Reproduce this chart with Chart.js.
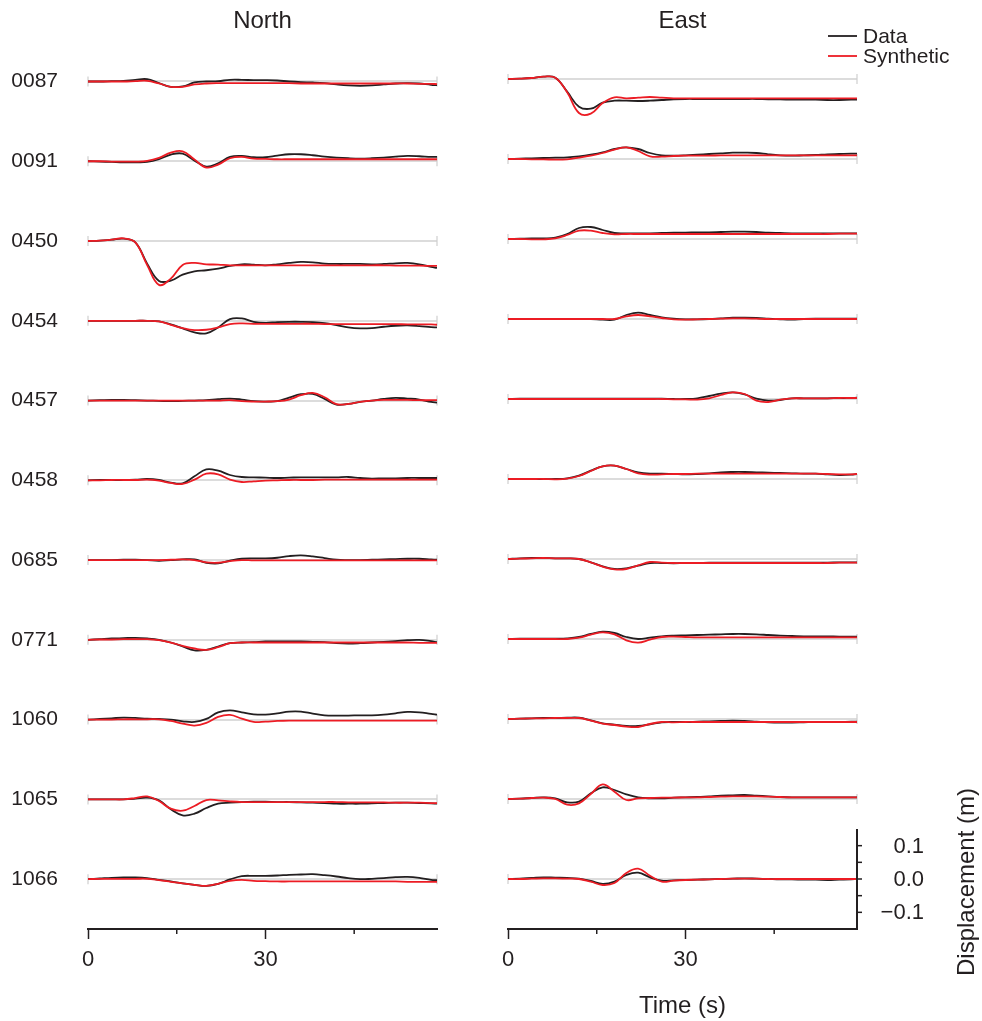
<!DOCTYPE html>
<html>
<head>
<meta charset="utf-8">
<title>North / East displacement waveforms</title>
<script src="https://cdn.jsdelivr.net/npm/chart.js@4.4.0/dist/chart.umd.min.js"></script>
<style>
html, body { margin: 0; padding: 0; background: #fff; }
#wrap { position: relative; width: 982px; height: 1021px; }
canvas { position: absolute; top: 0; }
#north { left: 0; }
#east { left: 420px; }
</style>
</head>
<body>
<div id="wrap">
  <canvas id="north" width="491" height="1021" style="width:491px;height:1021px"></canvas>
  <canvas id="east" width="562" height="1021" style="width:562px;height:1021px"></canvas>
</div>
<script>
// time samples (s), every 2 s
const times = [0,2,4,6,8,10,12,14,16,18,20,22,24,26,28,30,32,34,36,38,40,42,44,46,48,50,52,54,56,58,59];
const stations = ['0087','0091','0450','0454','0457','0458','0685','0771','1060','1065','1066'];
const xTicks = [0, 15, 30, 45];
const xTickLabels = [0, 30];
const dispTicks = [0.1, 0, -0.1];
const dispMinorTicks = [0.05, -0.05];
const STEP = 0.24;   // vertical offset between stations (m)

// North component, displacement (m): observed / synthetic
const n0087Data = [0,0,0.001,0.002,0.005,0.007,-0.005,-0.016,-0.015,-0.003,0,0.001,0.005,0.005,0.004,0.004,0.003,0,-0.002,-0.003,-0.005,-0.009,-0.012,-0.013,-0.012,-0.009,-0.006,-0.005,-0.006,-0.010,-0.011];
const n0087Syn  = [0,0,0,0,0.001,0.002,-0.006,-0.016,-0.016,-0.009,-0.006,-0.005,-0.005,-0.005,-0.005,-0.005,-0.005,-0.005,-0.006,-0.006,-0.006,-0.006,-0.006,-0.006,-0.006,-0.006,-0.006,-0.006,-0.007,-0.007,-0.008];
const n0091Data = [0,-0.001,-0.002,-0.003,-0.003,-0.002,0.006,0.020,0.023,0.002,-0.016,-0.006,0.013,0.016,0.012,0.012,0.017,0.021,0.021,0.018,0.014,0.011,0.009,0.008,0.009,0.011,0.014,0.016,0.015,0.013,0.013];
const n0091Syn  = [0,0,-0.001,-0.001,-0.001,0.001,0.010,0.026,0.030,0.005,-0.019,-0.010,0.009,0.013,0.008,0.007,0.006,0.006,0.006,0.006,0.006,0.006,0.006,0.006,0.006,0.006,0.006,0.006,0.006,0.006,0.006];
const n0450Data = [0,0.001,0.004,0.007,-0.004,-0.068,-0.120,-0.119,-0.101,-0.091,-0.088,-0.083,-0.075,-0.070,-0.071,-0.073,-0.070,-0.066,-0.063,-0.064,-0.068,-0.069,-0.069,-0.069,-0.070,-0.069,-0.067,-0.066,-0.070,-0.078,-0.081];
const n0450Syn  = [0,0.001,0.004,0.008,-0.004,-0.072,-0.132,-0.113,-0.072,-0.066,-0.070,-0.071,-0.073,-0.073,-0.073,-0.073,-0.073,-0.073,-0.073,-0.073,-0.073,-0.073,-0.073,-0.073,-0.073,-0.073,-0.074,-0.074,-0.074,-0.075,-0.075];
const n0454Data = [0,0,0,0,0,0,-0.002,-0.011,-0.023,-0.035,-0.038,-0.020,0.005,0.007,-0.003,-0.006,-0.004,-0.003,-0.003,-0.004,-0.007,-0.013,-0.020,-0.023,-0.022,-0.018,-0.015,-0.014,-0.016,-0.019,-0.020];
const n0454Syn  = [0,0,0,0,0,0,-0.002,-0.012,-0.022,-0.028,-0.027,-0.020,-0.010,-0.008,-0.009,-0.009,-0.009,-0.009,-0.009,-0.009,-0.010,-0.010,-0.010,-0.010,-0.010,-0.010,-0.010,-0.011,-0.011,-0.011,-0.012];
const n0457Data = [0,0.001,0.002,0.002,0.001,0,-0.001,-0.002,-0.001,0,0.001,0.004,0.006,0.003,-0.002,-0.003,-0.002,0.009,0.019,0.020,0.005,-0.012,-0.010,-0.004,0,0.005,0.008,0.006,0.003,-0.004,-0.006];
const n0457Syn  = [0,0,0,0,0,0,0,0,0,0,0,0,0.001,-0.002,-0.003,-0.003,-0.002,0.003,0.016,0.023,0.010,-0.011,-0.010,-0.004,0,0.002,0.002,0.002,0.001,0.001,0.001];
const n0458Data = [0,0.001,0.001,0.001,0.002,0.004,0.001,-0.007,-0.009,0.012,0.033,0.029,0.016,0.010,0.009,0.008,0.007,0.008,0.009,0.009,0.009,0.009,0.010,0.007,0.005,0.006,0.006,0.007,0.007,0.007,0.007];
const n0458Syn  = [0,0,0.001,0.001,0.001,0.002,-0.001,-0.008,-0.011,0.002,0.020,0.018,0.002,-0.005,-0.003,-0.001,0,0.001,0.001,0.001,0.002,0.002,0.002,0.002,0.002,0.002,0.002,0.002,0.002,0.002,0.002];
const n0685Data = [0,0,0,0.001,0.001,0,-0.002,0,0.002,0.002,-0.008,-0.010,-0.002,0.004,0.005,0.005,0.007,0.012,0.014,0.011,0.006,0.001,0,0,0.001,0.002,0.003,0.004,0.004,0.002,0.001];
const n0685Syn  = [0,0,0,0,0,0,0,0.001,0.002,0,-0.007,-0.008,-0.003,0,-0.001,-0.001,-0.001,-0.001,-0.001,-0.001,-0.001,-0.001,-0.001,-0.001,-0.001,-0.001,-0.001,-0.001,-0.001,-0.001,-0.001];
const n0771Data = [0,0.002,0.004,0.005,0.006,0.004,0,-0.008,-0.020,-0.032,-0.030,-0.020,-0.010,-0.008,-0.007,-0.005,-0.005,-0.005,-0.005,-0.006,-0.007,-0.010,-0.011,-0.010,-0.008,-0.006,-0.004,-0.001,0,-0.004,-0.007];
const n0771Syn  = [0,0.001,0.001,0.002,0.002,0.002,-0.001,-0.008,-0.018,-0.026,-0.030,-0.022,-0.010,-0.008,-0.008,-0.008,-0.008,-0.008,-0.008,-0.008,-0.008,-0.008,-0.008,-0.008,-0.008,-0.008,-0.008,-0.008,-0.009,-0.009,-0.009];
const n1060Data = [0,0.002,0.004,0.006,0.005,0.003,0.002,0,-0.005,-0.007,0.002,0.022,0.028,0.022,0.016,0.015,0.019,0.024,0.024,0.018,0.013,0.012,0.012,0.013,0.013,0.015,0.019,0.023,0.022,0.017,0.015];
const n1060Syn  = [0,0,0,0.001,0.001,0.001,0.001,-0.004,-0.012,-0.018,-0.010,0.008,0.014,0.003,-0.007,-0.006,-0.004,-0.003,-0.003,-0.003,-0.003,-0.003,-0.003,-0.003,-0.003,-0.003,-0.003,-0.003,-0.003,-0.003,-0.003];
const n1065Data = [0,0,0,0,0.002,0.005,-0.003,-0.030,-0.048,-0.043,-0.026,-0.013,-0.010,-0.008,-0.007,-0.007,-0.008,-0.008,-0.009,-0.010,-0.011,-0.013,-0.013,-0.013,-0.012,-0.011,-0.010,-0.010,-0.011,-0.012,-0.013];
const n1065Syn  = [0,0,0,0,0.004,0.009,-0.005,-0.028,-0.034,-0.020,-0.002,-0.003,-0.006,-0.008,-0.008,-0.008,-0.008,-0.008,-0.008,-0.008,-0.008,-0.008,-0.009,-0.009,-0.009,-0.009,-0.010,-0.010,-0.010,-0.011,-0.011];
const n1066Data = [0,0.002,0.004,0.005,0.005,0.003,-0.002,-0.007,-0.013,-0.017,-0.020,-0.014,-0.001,0.009,0.010,0.010,0.011,0.013,0.014,0.015,0.012,0.008,0.003,0,0.001,0.003,0.006,0.007,0.004,-0.002,-0.003];
const n1066Syn  = [0,0.001,0.001,0.001,0.001,0.001,-0.003,-0.008,-0.013,-0.017,-0.020,-0.014,-0.005,-0.002,-0.005,-0.006,-0.007,-0.007,-0.007,-0.007,-0.007,-0.007,-0.007,-0.007,-0.007,-0.007,-0.007,-0.008,-0.008,-0.008,-0.008];

// East component, displacement (m): observed / synthetic
const e0087Data = [0,0.001,0.003,0.007,0.004,-0.038,-0.083,-0.089,-0.071,-0.065,-0.065,-0.066,-0.065,-0.063,-0.061,-0.060,-0.060,-0.060,-0.060,-0.060,-0.060,-0.060,-0.061,-0.061,-0.062,-0.062,-0.062,-0.063,-0.063,-0.062,-0.062];
const e0087Syn  = [0,0.001,0.003,0.007,0.004,-0.040,-0.102,-0.104,-0.072,-0.055,-0.058,-0.056,-0.054,-0.056,-0.058,-0.058,-0.058,-0.058,-0.058,-0.058,-0.058,-0.058,-0.058,-0.058,-0.058,-0.058,-0.058,-0.058,-0.058,-0.058,-0.058];
const e0091Data = [0,0.001,0.002,0.003,0.004,0.005,0.008,0.013,0.020,0.030,0.035,0.030,0.018,0.011,0.010,0.011,0.013,0.015,0.017,0.019,0.019,0.018,0.014,0.011,0.010,0.011,0.012,0.014,0.015,0.016,0.016];
const e0091Syn  = [0,0,-0.001,-0.001,-0.002,-0.001,0.004,0.010,0.018,0.028,0.035,0.024,0.008,0.007,0.009,0.010,0.010,0.010,0.011,0.011,0.011,0.011,0.011,0.011,0.011,0.011,0.011,0.011,0.011,0.011,0.011];
const e0450Data = [0,0.001,0.002,0.002,0.004,0.015,0.033,0.036,0.027,0.018,0.017,0.017,0.017,0.018,0.019,0.019,0.020,0.020,0.021,0.022,0.022,0.021,0.019,0.018,0.017,0.017,0.017,0.017,0.017,0.017,0.017];
const e0450Syn  = [0,0,-0.001,-0.001,0.002,0.012,0.025,0.025,0.018,0.014,0.015,0.015,0.015,0.015,0.015,0.015,0.015,0.015,0.015,0.015,0.015,0.015,0.015,0.015,0.015,0.015,0.015,0.015,0.016,0.016,0.016];
const e0454Data = [0,0,0,0,0,0,0,0,-0.002,-0.002,0.012,0.019,0.012,0.005,0.001,-0.001,-0.001,0,0.002,0.004,0.004,0.003,0.001,-0.001,-0.002,0,0.001,0.001,0.001,0.001,0.001];
const e0454Syn  = [0,0,0,0,0,0,0,0,0,0,0.008,0.012,0.008,0.003,-0.001,-0.002,-0.001,0,0.001,0.002,0.002,0.001,0,0,0,0,0,0,0,0,0];
const e0457Data = [0,0.001,0.001,0.001,0.001,0.001,0.001,0.001,0.001,0.001,0.001,0.001,0.001,0.001,0,0,0.002,0.009,0.016,0.020,0.014,0.001,-0.005,-0.003,0.002,0.002,0.002,0.002,0.003,0.003,0.004];
const e0457Syn  = [0,0,0,0,0,0,0,0,0,0,0,0,0,0,-0.001,-0.001,-0.002,0.002,0.012,0.020,0.015,-0.005,-0.009,-0.002,0.002,0.002,0.002,0.002,0.003,0.003,0.003];
const e0458Data = [0,0,0,0,0,0.002,0.010,0.025,0.038,0.040,0.030,0.020,0.016,0.016,0.015,0.014,0.015,0.017,0.020,0.021,0.021,0.020,0.019,0.018,0.017,0.016,0.016,0.014,0.012,0.013,0.015];
const e0458Syn  = [0,0,0,0,-0.001,0.001,0.009,0.024,0.038,0.040,0.030,0.017,0.013,0.014,0.015,0.015,0.016,0.016,0.016,0.016,0.016,0.016,0.016,0.016,0.016,0.016,0.016,0.015,0.014,0.014,0.015];
const e0685Data = [0,0.002,0.003,0.003,0.002,0.002,0,-0.010,-0.022,-0.030,-0.028,-0.020,-0.012,-0.012,-0.013,-0.012,-0.012,-0.011,-0.011,-0.011,-0.011,-0.011,-0.011,-0.011,-0.011,-0.011,-0.011,-0.011,-0.010,-0.010,-0.010];
const e0685Syn  = [0,0.001,0.002,0.003,0.002,0.002,0,-0.010,-0.023,-0.031,-0.030,-0.019,-0.009,-0.011,-0.012,-0.012,-0.012,-0.012,-0.012,-0.012,-0.012,-0.012,-0.012,-0.012,-0.012,-0.012,-0.012,-0.012,-0.011,-0.011,-0.011];
const e0771Data = [0,0.001,0.001,0.001,0.001,0.002,0.006,0.015,0.022,0.018,0.006,0,0.004,0.008,0.010,0.011,0.012,0.013,0.014,0.015,0.015,0.014,0.012,0.010,0.009,0.008,0.008,0.008,0.007,0.007,0.007];
const e0771Syn  = [0,0,0,0,0,0,0.004,0.013,0.020,0.014,-0.004,-0.011,-0.002,0.006,0.007,0.006,0.005,0.005,0.005,0.005,0.005,0.005,0.005,0.005,0.005,0.005,0.005,0.005,0.005,0.005,0.005];
const e1060Data = [0,0.001,0.002,0.003,0.003,0.004,0.004,-0.004,-0.013,-0.017,-0.021,-0.021,-0.016,-0.010,-0.009,-0.009,-0.008,-0.007,-0.006,-0.005,-0.006,-0.008,-0.010,-0.011,-0.011,-0.010,-0.009,-0.009,-0.009,-0.008,-0.008];
const e1060Syn  = [0,0.001,0.002,0.002,0.003,0.003,0.003,-0.005,-0.014,-0.018,-0.023,-0.024,-0.015,-0.009,-0.010,-0.009,-0.009,-0.009,-0.009,-0.009,-0.009,-0.009,-0.009,-0.009,-0.009,-0.009,-0.009,-0.009,-0.009,-0.009,-0.009];
const e1065Data = [0,0.001,0.003,0.005,0.002,-0.010,-0.008,0.017,0.035,0.027,0.014,0.005,0.002,0.002,0.004,0.005,0.006,0.008,0.010,0.011,0.012,0.010,0.008,0.006,0.005,0.005,0.005,0.005,0.005,0.005,0.005];
const e1065Syn  = [0,0.001,0.003,0.004,0,-0.017,-0.013,0.015,0.044,0.022,-0.003,0.002,0.003,0.004,0.004,0.005,0.005,0.006,0.007,0.008,0.008,0.008,0.007,0.006,0.005,0.005,0.005,0.005,0.005,0.005,0.005];
const e1066Data = [0,0.001,0.003,0.005,0.004,0.003,0.001,-0.006,-0.015,-0.008,0.012,0.019,0.005,-0.005,-0.004,-0.003,-0.002,-0.001,0,0.001,0.002,0.001,0,-0.001,-0.001,-0.002,-0.002,-0.003,-0.002,-0.001,0];
const e1066Syn  = [0,0,0.001,0.002,0.002,0.001,0,-0.008,-0.018,-0.012,0.018,0.031,0.010,-0.008,-0.005,-0.003,-0.002,-0.001,0,0.001,0.001,0.001,0,0,0,0,0,0,0,0,0];

const northData = [n0087Data,n0091Data,n0450Data,n0454Data,n0457Data,n0458Data,n0685Data,n0771Data,n1060Data,n1065Data,n1066Data];
const northSyn  = [n0087Syn,n0091Syn,n0450Syn,n0454Syn,n0457Syn,n0458Syn,n0685Syn,n0771Syn,n1060Syn,n1065Syn,n1066Syn];
const eastData  = [e0087Data,e0091Data,e0450Data,e0454Data,e0457Data,e0458Data,e0685Data,e0771Data,e1060Data,e1065Data,e1066Data];
const eastSyn   = [e0087Syn,e0091Syn,e0450Syn,e0454Syn,e0457Syn,e0458Syn,e0685Syn,e0771Syn,e1060Syn,e1065Syn,e1066Syn];

const INK = '#231f20';
const RED = '#ec1c24';
const GREY = '#dcdcdc';
const FONT = '"Liberation Sans", Arial, Helvetica, sans-serif';
Chart.defaults.font.family = FONT;
Chart.defaults.color = INK;

function makeDatasets(dataList, synList) {
    const sets = [];
    stations.forEach((st, k) => {
        const off = -k * STEP;
        sets.push({
            label: st + ' Synthetic',
            data: times.map((t, i) => ({ x: t, y: synList[k][i] + off })),
            borderColor: RED, borderWidth: 1.8, order: 0
        });
        sets.push({
            label: st + ' Data',
            data: times.map((t, i) => ({ x: t, y: dataList[k][i] + off })),
            borderColor: INK, borderWidth: 1.8, order: 1
        });
    });
    return sets;
}

// titles, minor ticks, trace end marks, legend and displacement scale
const decor = {
    id: 'decor',
    beforeDatasetsDraw(chart, args, opts) {
        const { ctx, chartArea: a, scales: { y } } = chart;
        ctx.save();
        ctx.strokeStyle = '#cfcfcf';
        ctx.lineWidth = 1.2;
        stations.forEach((st, k) => {
            const py = y.getPixelForValue(-k * STEP);
            [a.left, a.right].forEach(px => {
                ctx.beginPath();
                ctx.moveTo(px, py - 5);
                ctx.lineTo(px, py + 5);
                ctx.stroke();
            });
        });
        ctx.restore();
    },
    afterDraw(chart, args, opts) {
        const { ctx, chartArea: a, scales: { x, y } } = chart;
        ctx.save();
        ctx.fillStyle = INK;
        ctx.strokeStyle = INK;
        ctx.font = '24px ' + FONT;
        ctx.textAlign = 'center';
        ctx.textBaseline = 'middle';
        ctx.fillText(opts.title, (a.left + a.right) / 2, 21);

        // short ticks at 15 and 45 s
        ctx.lineWidth = 1.5;
        xTicks.filter(v => !xTickLabels.includes(v)).forEach(v => {
            const px = x.getPixelForValue(v);
            ctx.beginPath();
            ctx.moveTo(px, a.bottom);
            ctx.lineTo(px, a.bottom + 5);
            ctx.stroke();
        });

        if (opts.east) {
            // legend
            ctx.font = '21px ' + FONT;
            ctx.textAlign = 'left';
            [['Data', INK, 36], ['Synthetic', RED, 56]].forEach(([txt, col, py]) => {
                ctx.strokeStyle = col;
                ctx.lineWidth = 1.8;
                ctx.beginPath();
                ctx.moveTo(a.right - 29, py);
                ctx.lineTo(a.right, py);
                ctx.stroke();
                ctx.fillStyle = INK;
                ctx.fillText(txt, a.right + 6, py + 1);
            });

            // displacement scale on the last trace
            const base = -(stations.length - 1) * STEP;
            ctx.strokeStyle = INK;
            ctx.lineWidth = 2;
            ctx.beginPath();
            ctx.moveTo(a.right, y.getPixelForValue(base + 0.15));
            ctx.lineTo(a.right, a.bottom + 1);
            ctx.stroke();
            ctx.lineWidth = 1.5;
            dispTicks.concat(dispMinorTicks).forEach(v => {
                const py = y.getPixelForValue(base + v);
                ctx.beginPath();
                ctx.moveTo(a.right, py);
                ctx.lineTo(a.right + 5, py);
                ctx.stroke();
            });
            ctx.font = '22px ' + FONT;
            ctx.textAlign = 'right';
            ctx.fillStyle = INK;
            dispTicks.forEach(v => {
                ctx.fillText(v.toFixed(1).replace('-', '\u2212'), a.right + 67, y.getPixelForValue(base + v) + 1);
            });
            ctx.save();
            ctx.translate(a.right + 110, y.getPixelForValue(base) + 3);
            ctx.rotate(-Math.PI / 2);
            ctx.textAlign = 'center';
            ctx.font = '24px ' + FONT;
            ctx.fillText('Displacement (m)', 0, 0);
            ctx.restore();
        }
        ctx.restore();
    }
};

function makeChart(id, dataList, synList, east) {
    return new Chart(document.getElementById(id), {
        type: 'line',
        data: { datasets: makeDatasets(dataList, synList) },
        options: {
            responsive: false,
            animation: false,
            layout: { padding: { top: 40, bottom: 0, left: 0, right: east ? 125 : 54 } },
            elements: {
                point: { radius: 0 },
                line: { tension: 0.4, fill: false }
            },
            plugins: {
                legend: { display: false },
                tooltip: { enabled: false },
                decor: { title: east ? 'East' : 'North', east: east }
            },
            scales: {
                x: {
                    type: 'linear',
                    min: 0,
                    max: 59,
                    afterBuildTicks: s => { s.ticks = xTicks.map(v => ({ value: v })); },
                    afterFit: s => { s.height = 92; },
                    ticks: {
                        autoSkip: false,
                        maxRotation: 0,
                        padding: 8,
                        color: INK,
                        font: { size: 22 },
                        callback: v => xTickLabels.includes(v) ? String(v) : ''
                    },
                    grid: {
                        drawOnChartArea: false,
                        tickLength: 10,
                        tickWidth: 1.5,
                        tickColor: c => (c.tick && xTickLabels.includes(c.tick.value)) ? INK : 'rgba(0,0,0,0)'
                    },
                    border: { color: INK, width: 2 },
                    title: {
                        display: east,
                        text: 'Time (s)',
                        color: INK,
                        font: { size: 24 },
                        padding: { top: 0, bottom: 0 }
                    }
                },
                y: {
                    type: 'linear',
                    min: -2.55,
                    max: 0.117,
                    afterBuildTicks: s => { s.ticks = stations.map((st, k) => ({ value: -k * STEP })); },
                    afterFit: s => { s.width = 88; },
                    ticks: {
                        display: !east,
                        autoSkip: false,
                        padding: 30,
                        color: INK,
                        font: { size: 21 },
                        callback: v => stations[Math.round(-v / STEP)]
                    },
                    grid: { color: GREY, lineWidth: 2, drawTicks: false },
                    border: { display: false }
                }
            }
        },
        plugins: [decor]
    });
}

makeChart('north', northData, northSyn, false);
makeChart('east', eastData, eastSyn, true);
</script>
</body>
</html>
